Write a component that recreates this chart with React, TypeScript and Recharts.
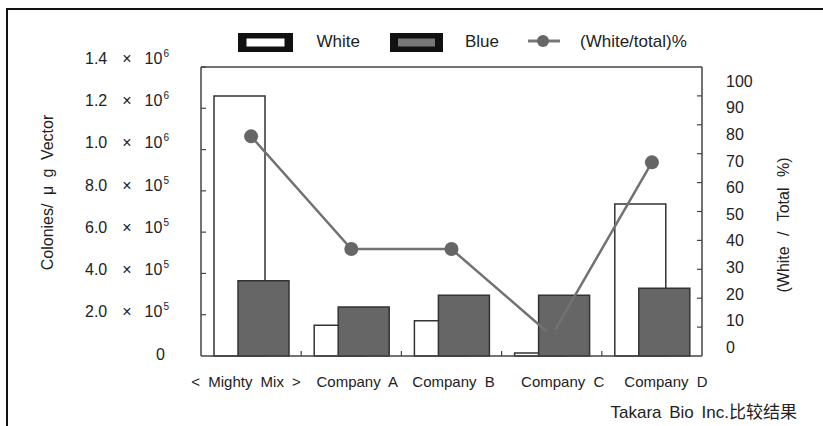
import React from "react";
import { ComposedChart, Bar, Line, XAxis, YAxis, Legend, ReferenceLine } from "recharts";

// Transformation efficiency comparison (colonies per µg vector) and white-colony ratio
const categories = ["< Mighty Mix >", "Company A", "Company B", "Company C", "Company D"];
const whiteColonies = [1260000, 149000, 171000, 15000, 736000];
const blueColonies = [365000, 237000, 294000, 294000, 328000];
const whiteRatio = [76, 37, 37, 7, 67];

const seriesKeys = ["white", "blue", "ratio"];
const seriesNames = ["White", "Blue", "(White/total)%"];

const colonyTicks = [0, 200000, 400000, 600000, 800000, 1000000, 1200000, 1400000];
const colonyTickMantissa = ["0", "2.0", "4.0", "6.0", "8.0", "1.0", "1.2", "1.4"];
const colonyTickExponent = [null, "5", "5", "5", "5", "6", "6", "6"];
const percentTicks = [0, 10, 20, 30, 40, 50, 60, 70, 80, 90, 100];

const leftTitle = "Colonies/ μ g Vector";
const rightTitle = "(White / Total %)";
const footnote = "Takara Bio Inc.比较结果";

const data = categories.map((name, i) => ({
  name,
  white: whiteColonies[i],
  blue: blueColonies[i],
  ratio: whiteRatio[i],
}));

const FONT = '"Liberation Sans", Arial, "Noto Sans CJK SC", sans-serif';
const TEXT = "#222";
const FRAME = "#444";

const LeftTick = (props: any) => {
  const { x, y, payload } = props;
  const i = colonyTicks.indexOf(payload.value);
  const ly = y - 2 - i;
  const exp = colonyTickExponent[i];
  return (
    <g>
      {i > 0 && <line x1={x} x2={x + 5} y1={y} y2={y} stroke={FRAME} strokeWidth={1.2} />}
      {exp ? (
        <text x={x - 116} y={ly} dy="0.36em" fontSize={16} fill={TEXT} fontFamily={FONT}>
          <tspan>{colonyTickMantissa[i]}</tspan>
          <tspan dx={15}>×</tspan>
          <tspan dx={13}>10</tspan>
          <tspan dx={1} dy={-7} fontSize={10}>{exp}</tspan>
        </text>
      ) : (
        <text x={x - 36} y={ly} dy="0.36em" fontSize={16} fill={TEXT} fontFamily={FONT} textAnchor="end">
          {colonyTickMantissa[i]}
        </text>
      )}
    </g>
  );
};

const RightTick = (props: any) => {
  const { x, y, payload } = props;
  const v = payload.value;
  const ly = y - 9 + v * 0.23;
  return (
    <g>
      {v > 0 && v < 100 && <line x1={x - 5} x2={x} y1={y} y2={y} stroke={FRAME} strokeWidth={1.2} />}
      <text x={x + 24} y={ly} dy="0.36em" fontSize={16} fill={TEXT} fontFamily={FONT}>
        {v}
      </text>
    </g>
  );
};

// small horizontal nudges so each category name sits where the printed layout put it
const labelNudge = [-5, 6, 2, 11, 14];

const CategoryTick = (props: any) => {
  const { x, y, payload, index } = props;
  const half = typeof payload.offset === "number" && payload.offset > 0 ? payload.offset : 50;
  return (
    <g>
      {index < categories.length - 1 && (
        <line x1={x + half} x2={x + half} y1={y} y2={y - 5} stroke={FRAME} strokeWidth={1.2} />
      )}
      <text
        x={x + (labelNudge[index] || 0)}
        y={y + 26}
        dy="0.36em"
        textAnchor="middle"
        fontSize={15}
        fill={TEXT}
        fontFamily={FONT}
        style={{ wordSpacing: 4 }}
      >
        {payload.value}
      </text>
    </g>
  );
};

const LeftTitle = (props: any) => {
  const vb = props.viewBox ?? props;
  const cx = vb.x - 34;
  const cy = vb.y + 125.5;
  return (
    <text
      x={cx}
      y={cy}
      dy="0.36em"
      textAnchor="middle"
      transform={`rotate(-90, ${cx}, ${cy})`}
      fontSize={16}
      fill={TEXT}
      fontFamily={FONT}
      style={{ wordSpacing: 4 }}
    >
      {leftTitle}
    </text>
  );
};

const RightTitle = (props: any) => {
  const vb = props.viewBox ?? props;
  const cx = vb.x + 81;
  const cy = vb.y + 158;
  return (
    <text
      x={cx}
      y={cy}
      dy="0.36em"
      textAnchor="middle"
      transform={`rotate(-90, ${cx}, ${cy})`}
      fontSize={16}
      fill={TEXT}
      fontFamily={FONT}
      style={{ wordSpacing: 6, whiteSpace: "pre" }}
    >
      {rightTitle}
    </text>
  );
};

const LegendContent = (props: any) => {
  const payload: any[] = props.payload ?? [];
  const label = (i: number) => {
    const item = payload.find((p) => p && p.dataKey === seriesKeys[i]);
    return (item && item.value) || seriesNames[i];
  };
  return (
    <svg width={823} height={60} style={{ display: "block" }}>
      <g>
        <rect x={238} y={33} width={55} height={19} fill="#111" />
        <rect x={246.5} y={38.5} width={38} height={8} fill="#fff" />
        <text x={316.5} y={40.5} dy="0.36em" fontSize={17} fill={TEXT} fontFamily={FONT}>
          {label(0)}
        </text>
      </g>
      <g>
        <rect x={390} y={33} width={53} height={19} fill="#111" />
        <rect x={398} y={38.5} width={37} height={8} fill="#777" />
        <text x={465} y={40.5} dy="0.36em" fontSize={17} fill={TEXT} fontFamily={FONT}>
          {label(1)}
        </text>
      </g>
      <g>
        <line x1={528} x2={560} y1={41} y2={41} stroke="#777" strokeWidth={3} />
        <circle cx={543} cy={41} r={6} fill="#666" />
        <text x={580} y={40.5} dy="0.36em" fontSize={17} fill={TEXT} fontFamily={FONT}>
          {label(2)}
        </text>
      </g>
    </svg>
  );
};

export default function App() {
  return (
    <div
      style={{
        position: "absolute",
        left: 0,
        top: 0,
        width: 823,
        height: 426,
        background: "#fff",
        overflow: "hidden",
        fontFamily: FONT,
      }}
    >
      <div
        style={{
          position: "absolute",
          left: 6,
          top: 8,
          width: 840,
          height: 440,
          borderLeft: "2px solid #111",
          borderTop: "2px solid #111",
        }}
      />
      <ComposedChart
        width={823}
        height={426}
        data={data}
        margin={{ top: 67, right: 21, bottom: 40, left: 81 }}
        barGap={-27}
      >
        <XAxis
          dataKey="name"
          xAxisId={0}
          height={30}
          interval={0}
          tickLine={false}
          tickSize={0}
          tickMargin={0}
          axisLine={{ stroke: FRAME, strokeWidth: 1.5 }}
          tick={<CategoryTick />}
        />
        <YAxis
          yAxisId="left"
          orientation="left"
          width={120}
          domain={[0, 1400000]}
          ticks={colonyTicks}
          interval={0}
          tickLine={false}
          tickSize={0}
          tickMargin={0}
          axisLine={{ stroke: FRAME, strokeWidth: 1.5 }}
          tick={<LeftTick />}
          label={<LeftTitle />}
        />
        <YAxis
          yAxisId="right"
          orientation="right"
          width={100}
          domain={[0, 100]}
          ticks={percentTicks}
          interval={0}
          tickLine={false}
          tickSize={0}
          tickMargin={0}
          axisLine={{ stroke: FRAME, strokeWidth: 1.5 }}
          tick={<RightTick />}
          label={<RightTitle />}
        />
        <ReferenceLine yAxisId="left" y={1400000} stroke={FRAME} strokeWidth={1.5} />
        <Legend
          verticalAlign="middle"
          align="center"
          layout="horizontal"
          wrapperStyle={{ left: 0, top: 0, width: 823, height: 60 }}
          content={<LegendContent />}
        />
        <Bar
          yAxisId="left"
          dataKey="white"
          name={seriesNames[0]}
          barSize={51}
          fill="#fff"
          stroke="#333"
          strokeWidth={1.5}
          isAnimationActive={false}
        />
        <Bar
          yAxisId="left"
          dataKey="blue"
          name={seriesNames[1]}
          barSize={51}
          fill="#666"
          stroke="#333"
          strokeWidth={1.5}
          isAnimationActive={false}
        />
        <Line
          yAxisId="right"
          type="linear"
          dataKey="ratio"
          name={seriesNames[2]}
          stroke="#727272"
          strokeWidth={2.5}
          dot={{ r: 7, fill: "#666", stroke: "none" }}
          activeDot={false}
          isAnimationActive={false}
        />
      </ComposedChart>
      <svg width={823} height={426} style={{ position: "absolute", left: 0, top: 0, pointerEvents: "none" }}>
        <text x={610.5} y={412} dy="0.36em" fontSize={17} fill={TEXT} fontFamily={FONT} style={{ wordSpacing: 3 }}>
          {footnote}
        </text>
      </svg>
    </div>
  );
}
